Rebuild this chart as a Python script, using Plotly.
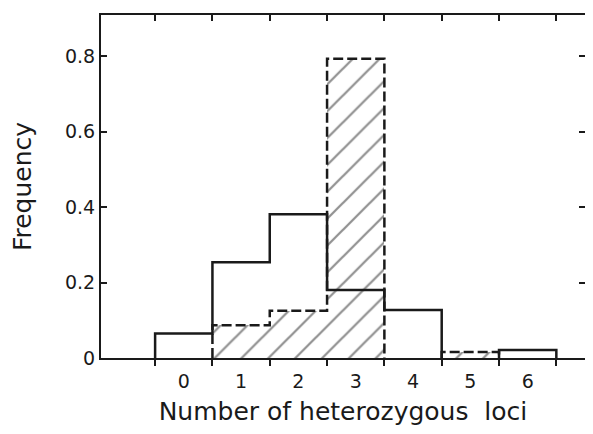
import numpy as np
import plotly.graph_objects as go

# Data
categories = [0, 1, 2, 3, 4, 5, 6]
tick_labels = ["0", "1", "2", "3", "4", "5", "6"]
solid_freq = [0.065, 0.254, 0.381, 0.180, 0.127, 0.0, 0.021]
dashed_freq = [0.0, 0.087, 0.125, 0.793, 0.0, 0.016, 0.0]
y_ticks = [0, 0.2, 0.4, 0.6, 0.8]
y_tick_labels = ["0", "0.2", "0.4", "0.6", "0.8"]

cats = np.array(categories, dtype=float)
edges = np.concatenate([cats - 0.5, [cats[-1] + 0.5]])


def step(vals):
    """Histogram outline; zero-height bins leave a gap along the baseline."""
    xs, ys = [], []
    prev = 0.0
    for i, v in enumerate(vals):
        xs += [edges[i], edges[i]]
        ys += [prev, v]
        if v == 0:
            xs.append(None)
            ys.append(None)
        else:
            xs.append(edges[i + 1])
            ys.append(v)
        prev = v
    xs += [edges[-1], edges[-1]]
    ys += [prev, 0.0]
    return xs, ys


FONT = "DejaVu Sans"
INK = "#1a1a1a"

fig = go.Figure()

# hatched area for dashed series
fig.add_trace(go.Bar(
    x=cats, y=dashed_freq, width=1.0,
    marker=dict(color="white", line=dict(width=0),
                pattern=dict(shape="/", size=19, solidity=0.12,
                             fgcolor="#222", bgcolor="white")),
    showlegend=False, hoverinfo="skip",
))

sx, sy = step(solid_freq)
fig.add_trace(go.Scatter(x=sx, y=sy, mode="lines",
                         line=dict(color=INK, width=2.5),
                         showlegend=False, hoverinfo="skip"))

dx, dy = step(dashed_freq)
fig.add_trace(go.Scatter(x=dx, y=dy, mode="lines",
                         line=dict(color=INK, width=2.5, dash="10px,4px"),
                         showlegend=False, hoverinfo="skip"))

# empty traces so the helper axes get drawn
for ax in ("x2", "x3"):
    fig.add_trace(go.Scatter(x=[None], y=[None], xaxis=ax, yaxis="y",
                             mode="lines", showlegend=False, hoverinfo="skip"))

xr = [-1.444, 7.0]
yr = [0, 0.909]

fig.update_layout(
    width=577, height=418,
    margin=dict(l=93, r=0, t=7, b=68),
    paper_bgcolor="white", plot_bgcolor="white",
    font=dict(family=FONT, color=INK),
    bargap=0,
    xaxis=dict(
        range=xr, showgrid=False, zeroline=False, automargin=False,
        showline=True, linecolor=INK, linewidth=2, mirror=True,
        tickmode="array", tickvals=list(edges), ticks="outside",
        ticklen=6, tickwidth=2, tickcolor=INK, showticklabels=False,
    ),
    xaxis2=dict(
        range=xr, overlaying="x", side="top", showgrid=False, automargin=False,
        zeroline=False, showline=False,
        tickmode="array", tickvals=list(edges), ticks="inside",
        ticklen=6, tickwidth=2, tickcolor=INK, showticklabels=False,
    ),
    xaxis3=dict(
        range=xr, overlaying="x", side="bottom", showgrid=False, automargin=False,
        zeroline=False, showline=False,
        tickmode="array", tickvals=categories, ticktext=tick_labels,
        ticks="", ticklabelstandoff=10,
        tickfont=dict(family=FONT, size=19, color=INK),
        title=dict(text="Number of heterozygous  loci",
                   font=dict(family=FONT, size=25, color=INK), standoff=17),
    ),
    yaxis=dict(
        range=yr, showgrid=False, zeroline=False, automargin=False,
        showline=True, linecolor=INK, linewidth=2, mirror="ticks",
        tickmode="array", tickvals=y_ticks, ticktext=y_tick_labels,
        ticks="inside", ticklen=6, tickwidth=2, tickcolor=INK,
        tickfont=dict(family=FONT, size=19, color=INK),
        title=dict(text="Frequency", font=dict(family=FONT, size=25, color=INK),
                   standoff=28),
    ),
)

fig.write_html("out.html")
